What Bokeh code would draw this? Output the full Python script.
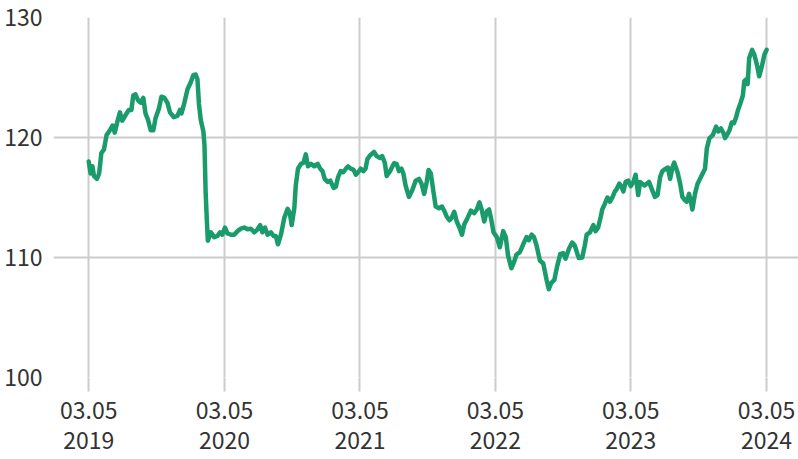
import pandas as pd
from bokeh.plotting import figure
from bokeh.models import FixedTicker, DatetimeTickFormatter, Range1d, ColumnDataSource
from bokeh.embed import file_html
from bokeh.resources import INLINE

dates = [
    "2019-03-05", "2019-03-10", "2019-03-15", "2019-03-19", "2019-03-27", "2019-04-02", "2019-04-08",
    "2019-04-15", "2019-04-22", "2019-05-01", "2019-05-08", "2019-05-14", "2019-05-21", "2019-05-28",
    "2019-06-03", "2019-06-12", "2019-06-21", "2019-06-28", "2019-07-03", "2019-07-09", "2019-07-16",
    "2019-07-23", "2019-07-30", "2019-08-05", "2019-08-12", "2019-08-19", "2019-08-26", "2019-09-01",
    "2019-09-10", "2019-09-17", "2019-09-25", "2019-10-03", "2019-10-10", "2019-10-20", "2019-10-30",
    "2019-11-06", "2019-11-10", "2019-11-17", "2019-11-26", "2019-12-05", "2019-12-12", "2019-12-18",
    "2019-12-23", "2019-12-27", "2020-01-01", "2020-01-08", "2020-01-11", "2020-01-14", "2020-01-17",
    "2020-01-20", "2020-01-28", "2020-02-06", "2020-02-15", "2020-02-22", "2020-02-28",
    "2020-03-06", "2020-03-13", "2020-03-22", "2020-03-31", "2020-04-09", "2020-04-18", "2020-04-27",
    "2020-05-06", "2020-05-15", "2020-05-24", "2020-06-02", "2020-06-09", "2020-06-15", "2020-06-22",
    "2020-06-29", "2020-07-08", "2020-07-15", "2020-07-21", "2020-07-27", "2020-08-04", "2020-08-13",
    "2020-08-22", "2020-08-28", "2020-09-02", "2020-09-09", "2020-09-13", "2020-09-19", "2020-09-27",
    "2020-10-04", "2020-10-10", "2020-10-16", "2020-10-24", "2020-11-02", "2020-11-11", "2020-11-18",
    "2020-11-24", "2020-11-30", "2020-12-08", "2020-12-15", "2020-12-24", "2020-12-30", "2021-01-05",
    "2021-01-12", "2021-01-19", "2021-01-26", "2021-02-01", "2021-02-08", "2021-02-16", "2021-02-22",
    "2021-02-28",
    "2021-03-07", "2021-03-14", "2021-03-20", "2021-03-25", "2021-04-01", "2021-04-12", "2021-04-19",
    "2021-04-28", "2021-05-04", "2021-05-11", "2021-05-16", "2021-05-25", "2021-06-05", "2021-06-12",
    "2021-06-18", "2021-06-25", "2021-06-30", "2021-07-06", "2021-07-15", "2021-07-24", "2021-08-02",
    "2021-08-11", "2021-08-18", "2021-08-25", "2021-09-01", "2021-09-06", "2021-09-12", "2021-09-19",
    "2021-09-25", "2021-10-04", "2021-10-12", "2021-10-18", "2021-10-25", "2021-11-01", "2021-11-07",
    "2021-11-14", "2021-11-21", "2021-11-28", "2021-12-05", "2021-12-11", "2021-12-20", "2021-12-29",
    "2022-01-07", "2022-01-14", "2022-01-21", "2022-01-27", "2022-02-03", "2022-02-10", "2022-02-16",
    "2022-02-22", "2022-02-28",
    "2022-03-09", "2022-03-17", "2022-03-26", "2022-04-02", "2022-04-08", "2022-04-17", "2022-04-24",
    "2022-05-01", "2022-05-10", "2022-05-19", "2022-05-28", "2022-06-03", "2022-06-11", "2022-06-17",
    "2022-06-24", "2022-07-03", "2022-07-12", "2022-07-21", "2022-07-27", "2022-08-02", "2022-08-11",
    "2022-08-18", "2022-08-27", "2022-09-04", "2022-09-10", "2022-09-19", "2022-09-28", "2022-10-05",
    "2022-10-12", "2022-10-16", "2022-10-25", "2022-11-01", "2022-11-06", "2022-11-15", "2022-11-24",
    "2022-11-30", "2022-12-07", "2022-12-14", "2022-12-18", "2022-12-24", "2023-01-01", "2023-01-08",
    "2023-01-15", "2023-01-21", "2023-01-26", "2023-02-02", "2023-02-08", "2023-02-13", "2023-02-19",
    "2023-02-26",
    "2023-03-05", "2023-03-12", "2023-03-18", "2023-03-25", "2023-03-30", "2023-04-05", "2023-04-11",
    "2023-04-23", "2023-05-02", "2023-05-09", "2023-05-16", "2023-05-23", "2023-05-29", "2023-06-07",
    "2023-06-13", "2023-06-19", "2023-06-26", "2023-06-30", "2023-07-09", "2023-07-16", "2023-07-22",
    "2023-07-28", "2023-08-03", "2023-08-09", "2023-08-14", "2023-08-18", "2023-08-25", "2023-09-01",
    "2023-09-10", "2023-09-21", "2023-09-26", "2023-10-03", "2023-10-12", "2023-10-21", "2023-10-27",
    "2023-11-03", "2023-11-10", "2023-11-14", "2023-11-19", "2023-11-26", "2023-12-02", "2023-12-08",
    "2023-12-14", "2023-12-19", "2023-12-26", "2024-01-01", "2024-01-05", "2024-01-10", "2024-01-14",
    "2024-01-18", "2024-01-26", "2024-02-01", "2024-02-08", "2024-02-14", "2024-02-21", "2024-02-28",
    "2024-03-05",
]

values = [
    118.0, 117.0, 117.6, 116.8, 116.55, 117.0, 118.7,
    119.0, 120.2, 120.6, 121.0, 120.4, 121.3, 122.1,
    121.4, 121.85, 122.3, 122.3, 123.5, 123.6, 123.1,
    122.9, 123.3, 122.0, 121.45, 120.6, 120.6, 121.6,
    122.4, 123.4, 123.3, 122.9, 122.1, 121.7, 121.8,
    122.3, 122.0, 122.8, 124.0, 124.6, 125.2, 125.25,
    124.85, 122.8, 121.45, 120.5, 119.3, 115.5, 113.3,
    111.4, 112.1, 111.7, 111.8, 112.1, 111.9,
    112.5, 112.0, 111.9, 111.9, 112.2, 112.4, 112.5,
    112.35, 112.4, 112.1, 112.35, 112.7, 112.1, 112.5,
    111.9, 112.1, 111.8, 111.8, 111.1, 111.9, 113.3,
    114.05, 113.7, 112.7, 114.1, 116.0, 117.4, 117.8,
    117.9, 118.6, 117.6, 117.8, 117.6, 117.8, 117.4,
    117.2, 116.55, 116.3, 116.4, 115.8, 115.9, 116.7,
    117.2, 117.1, 117.4, 117.6, 117.4, 117.3, 116.9,
    117.1,
    117.4, 117.2, 117.4, 118.2, 118.5, 118.8, 118.45,
    118.3, 118.45, 117.9, 116.8, 117.2, 117.85, 117.8,
    117.2, 117.4, 117.0, 116.0, 115.05, 115.6, 116.4,
    116.55, 116.15, 115.3, 116.3, 117.3, 117.0, 115.5,
    114.25, 114.1, 114.25, 113.9, 113.4, 113.1, 113.3,
    113.8, 113.0, 112.5, 111.9, 112.75, 113.3, 113.9,
    113.7, 114.0, 114.6, 114.0, 113.0, 113.85, 114.0,
    113.15, 112.1,
    111.7, 110.85, 112.2, 111.7, 110.2, 109.1, 109.6,
    110.25, 110.45, 111.1, 111.7, 111.45, 111.9, 111.7,
    111.0, 109.75, 109.5, 108.15, 107.35, 107.85, 108.15,
    109.2, 110.3, 110.35, 109.9, 110.7, 111.25, 111.0,
    110.3, 109.95, 110.0, 111.0, 111.9, 112.1, 112.7,
    112.2, 112.5, 113.4, 114.0, 114.4, 115.0, 114.65,
    115.05, 115.5, 115.7, 116.15, 115.9, 115.5, 116.3,
    116.4,
    115.95, 116.3, 116.9, 115.2, 116.3, 116.15, 116.0,
    116.3, 115.6, 115.05, 115.2, 116.7, 117.2, 117.4,
    117.5, 116.55, 117.6, 117.9, 117.1, 116.15, 115.05,
    114.8, 114.65, 115.3, 114.65, 114.0, 115.3, 116.15,
    116.7, 117.4, 119.1, 119.95, 120.2, 120.9, 120.5,
    120.75, 120.35, 119.95, 120.2, 120.6, 121.25, 121.2,
    121.7, 122.3, 122.9, 123.5, 124.7, 124.85, 124.45,
    126.6, 127.3, 126.9, 126.05, 125.1, 125.9, 126.9,
    127.3,
]

tick_dates = ["2019-03-05", "2020-03-05", "2021-03-05", "2022-03-05", "2023-03-05", "2024-03-05"]
y_ticks = [100, 110, 120, 130]

source = ColumnDataSource(data=dict(x=pd.to_datetime(dates), y=values))
tick_ms = [pd.Timestamp(d).value / 1e6 for d in tick_dates]

FONT = "Noto Sans CJK SC"
FONT_SIZE = "23px"
LABEL_COLOR = "#333333"
GRID = "#cccccc"

p = figure(
    width=798, height=459,
    x_axis_type="datetime",
    x_range=Range1d(pd.Timestamp("2018-11-30"), pd.Timestamp("2024-05-30")),
    y_range=Range1d(100, 130),
    output_backend="svg", toolbar_location=None,
    min_border_left=53, min_border_right=0, min_border_top=17, min_border_bottom=0,
)
p.outline_line_color = None
p.background_fill_color = "white"
p.border_fill_color = "white"

p.line("x", "y", source=source, line_color="#1a9b6c", line_width=4.5,
       line_join="round", line_cap="round")

p.xgrid.grid_line_color = GRID
p.xgrid.grid_line_width = 2
p.ygrid.grid_line_color = GRID
p.ygrid.grid_line_width = 2

p.xaxis.ticker = FixedTicker(ticks=tick_ms)
fmt = "%m.%d\n%Y"
p.xaxis.formatter = DatetimeTickFormatter(
    milliseconds=fmt, seconds=fmt, minsec=fmt, minutes=fmt, hourmin=fmt,
    hours=fmt, days=fmt, months=fmt, years=fmt,
)
p.xaxis.axis_line_color = None
p.xaxis.major_tick_out = 14
p.xaxis.major_tick_in = 0
p.xaxis.major_tick_line_color = GRID
p.xaxis.major_tick_line_width = 2
p.xaxis.minor_tick_line_color = None
p.xaxis.major_label_standoff = 0
p.xaxis.major_label_text_font = FONT
p.xaxis.major_label_text_font_size = FONT_SIZE
p.xaxis.major_label_text_color = LABEL_COLOR
p.xaxis.major_label_text_line_height = 0.91

p.yaxis.ticker = FixedTicker(ticks=y_ticks)
p.yaxis.axis_line_color = None
p.yaxis.major_tick_line_color = None
p.yaxis.minor_tick_line_color = None
p.yaxis.major_label_standoff = 5
p.yaxis.major_label_text_font = FONT
p.yaxis.major_label_text_font_size = FONT_SIZE
p.yaxis.major_label_text_color = LABEL_COLOR

open("out.html", "w").write(file_html(p, INLINE))
